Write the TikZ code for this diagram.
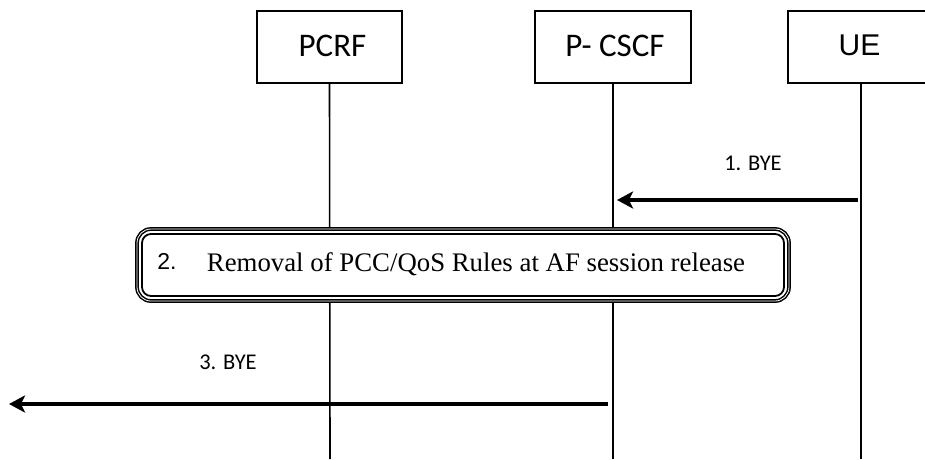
\documentclass[tikz,border=0pt]{standalone}
\usepackage{fontspec}
\setmainfont{Liberation Serif}
\newfontfamily\calib{Carlito}
\newfontfamily\arial{Liberation Sans}
\usetikzlibrary{arrows.meta}
\begin{document}
\begin{tikzpicture}[x=1pt,y=-1pt,
  entity/.style={draw, line width=1.5pt, minimum height=72pt, inner sep=0pt},
  life/.style={line width=1.6pt},
  msg/.style={line width=3.5pt, -{Stealth[length=16pt,width=17pt,inset=4pt]}},
  lbl/.style={font=\calib\fontsize{22.5}{26}\selectfont, inner sep=0pt}]
\useasboundingbox (0,0) rectangle (925,459);
\fill[white] (0,0) rectangle (925,459);
% entities
\node[entity, minimum width=145pt, font=\calib\fontsize{33}{36}\selectfont] (pcrf) at (329.5,47) {\raisebox{3pt}{\hspace*{6pt}PCRF}};
\node[entity, minimum width=156pt, font=\calib\fontsize{33}{36}\selectfont] (pcscf) at (613,47) {\raisebox{3pt}{\hspace*{4pt}P- CSCF}};
\node[entity, minimum width=146pt, font=\arial\fontsize{30}{34}\selectfont] (ue) at (861,47) {\raisebox{3pt}{\hspace*{-3pt}UE}};
% lifeline ends
\coordinate (pcrfend) at (330,459);
\coordinate (pcscfend) at (613,459);
\coordinate (ueend) at (861,459);
\draw[life] (pcrf.south) -- (pcrfend);
\draw[life] (pcscf.south) -- (pcscfend);
\draw[life] (ue.south) -- (ueend);
% message 1
\coordinate (m1s) at (858,200);
\coordinate (m1e) at (617,200);
\draw[msg] (m1s) -- (m1e);
\node[lbl] (l1) at (753,163) {1. BYE};
% box 2
\node[draw, fill=white, line width=1.5pt, double=white, double distance=0.8pt, rounded corners=14pt, minimum width=652pt, minimum height=72pt] (af) at (463,265) {};
\node[draw, line width=1.8pt, rounded corners=9pt, minimum width=642pt, minimum height=62pt] (afin) at (463,265) {};
\node[font=\arial\fontsize{23}{26}\selectfont, inner sep=0pt] (n2) at (167,261) {2.};
\node[font=\fontsize{26.8}{30}\selectfont, inner sep=0pt] (t2) at (476,264) {Removal of PCC/QoS Rules at AF session release};
% message 3
\coordinate (m3s) at (608,404);
\coordinate (m3e) at (9,404);
\draw[msg] (m3s) -- (m3e);
\node[lbl] (l3) at (228,362) {3. BYE};
\end{tikzpicture}
\end{document}
